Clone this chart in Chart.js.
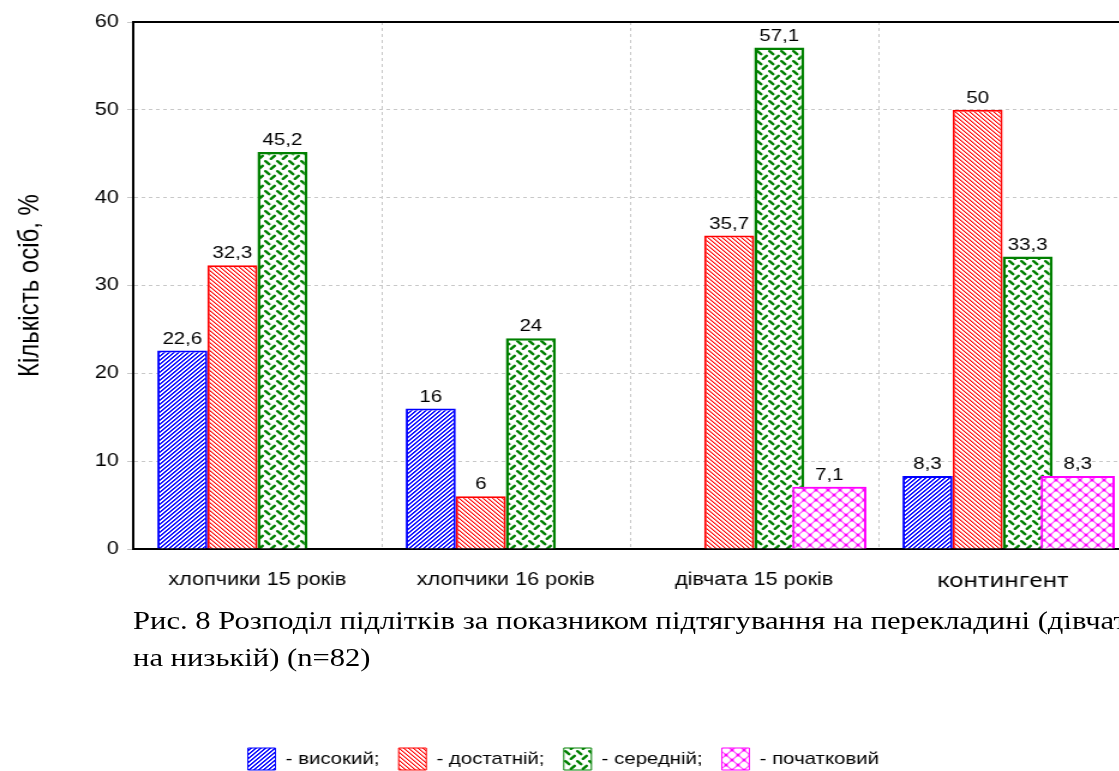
<!DOCTYPE html>
<html>
<head>
<meta charset="utf-8">
<script src="https://cdn.jsdelivr.net/npm/chart.js@4.4.1/dist/chart.umd.min.js"></script>
<style>
  html, body { margin: 0; padding: 0; background: #fff; overflow: hidden; }
  #wrap { position: relative; width: 1119px; height: 771px; overflow: hidden; }
  /* the original figure is stretched sideways, so the canvas is too */
  #chart { position: absolute; left: 0; top: 0; transform: scaleX(1.2); transform-origin: 0 0; }
  #caption {
    position: absolute; left: 133px; top: 602px;
    font-family: "Liberation Serif", "Times New Roman", serif;
    font-size: 25.5px; line-height: 37px; color: #000; white-space: nowrap;
    transform: scaleX(1.2); transform-origin: 0 0;
  }
</style>
</head>
<body>
<div id="wrap">
  <canvas id="chart" width="940" height="780"></canvas>
  <div id="caption">Рис. 8 Розподіл підлітків за показником підтягування на перекладині (дівчата<br>на низькій) (n=82)</div>
</div>
<script>
// categories and levels
const groups = ['хлопчики 15 років', 'хлопчики 16 років', 'дівчата 15 років', 'контингент'];
const levels = ['високий', 'достатній', 'середній', 'початковий'];

// values, %
const vHigh = [22.6, 16, null, 8.3];
const vEnough = [32.3, 6, 35.7, 50];
const vMiddle = [45.2, 24, 57.1, 33.3];
const vStart = [null, null, 7.1, 8.3];

const yTicks = [0, 10, 20, 30, 40, 50, 60];

function tile(size, draw) {
    const c = document.createElement('canvas');
    c.width = size;
    c.height = size;
    const g = c.getContext('2d');
    g.fillStyle = '#fff';
    g.fillRect(0, 0, size, size);
    draw(g, size);
    return g.createPattern(c, 'repeat');
}

// blue "/" stripes
const patBlue = tile(4, function (g, s) {
    for (let x = 0; x < s; x++) for (let y = 0; y < s; y++) {
        const k = (x + y) % s;
        if (k === 0) { g.fillStyle = '#0000ff'; g.fillRect(x, y, 1, 1); }
        else if (k === 1) { g.fillStyle = '#2020ff'; g.fillRect(x, y, 1, 1); }
    }
});

// red "\" stripes, thinner
const patRed = tile(4, function (g, s) {
    for (let x = 0; x < s; x++) for (let y = 0; y < s; y++) {
        const k = (x - y + 40) % s;
        if (k === 0) { g.fillStyle = '#ff0000'; g.fillRect(x, y, 1, 1); }
        else if (k === 1) { g.fillStyle = '#ff9a9a'; g.fillRect(x, y, 1, 1); }
    }
});

// green weave
const patGreen = tile(10, function (g, s) {
    g.strokeStyle = '#008000';
    g.lineWidth = 2.4;
    g.lineCap = 'round';
    g.beginPath();
    g.moveTo(1.2, 1.2); g.lineTo(4.2, 4.2);
    g.moveTo(5.8, 8.8); g.lineTo(8.8, 5.8);
    g.stroke();
});

// magenta diamonds with dots
const patPink = tile(10, function (g, s) {
    g.strokeStyle = '#ff40ff';
    g.lineWidth = 1.1;
    g.beginPath();
    g.moveTo(0, 0); g.lineTo(s, s);
    g.moveTo(0, s); g.lineTo(s, 0);
    g.stroke();
    g.fillStyle = '#ff00ff';
    [[0, 0], [s, 0], [0, s], [s, s], [s / 2, s / 2]].forEach(function (p) {
        g.beginPath(); g.arc(p[0], p[1], 1.5, 0, Math.PI * 2); g.fill();
    });
});

const fills = [patBlue, patRed, patGreen, patPink];
const lines = ['#0000ff', '#ff0000', '#008000', '#ff00ff'];
const series = [vHigh, vEnough, vMiddle, vStart];

const datasets = series.map(function (vals, i) {
    return {
        label: levels[i],
        data: vals,
        backgroundColor: fills[i],
        borderColor: lines[i],
        borderWidth: i === 2 ? 2.5 : 2,
        barPercentage: i === 3 ? 1.48 : 1.0,
        categoryPercentage: 0.806
    };
});

// values on top of the bars, and the wide pink bars redrawn on top
const barLabels = {
    id: 'barLabels',
    afterDatasetsDraw(chart) {
        const ctx = chart.ctx;
        chart.getDatasetMeta(3).controller.draw();
        ctx.save();
        ctx.font = '17px "Liberation Sans", Arial, sans-serif';
        ctx.fillStyle = '#000';
        ctx.textAlign = 'center';
        ctx.textBaseline = 'bottom';
        chart.data.datasets.forEach(function (ds, i) {
            const meta = chart.getDatasetMeta(i);
            meta.data.forEach(function (bar, j) {
                const v = ds.data[j];
                if (v === null) return;
                ctx.fillText(String(v).replace('.', ','), bar.x, bar.y - 3);
            });
        });
        ctx.restore();
    }
};

Chart.defaults.font.family = '"Liberation Sans", Arial, sans-serif';
Chart.defaults.color = '#000';

const chart = new Chart(document.getElementById('chart'), {
    type: 'bar',
    data: { labels: groups, datasets: datasets },
    plugins: [barLabels],
    options: {
        responsive: false,
        animation: false,
        layout: { padding: { top: 22, right: 1, left: 0, bottom: 0 } },
        plugins: {
            tooltip: { enabled: false },
            legend: {
                position: 'bottom',
                labels: {
                    boxWidth: 23,
                    boxHeight: 22,
                    padding: 16,
                    font: { size: 17 },
                    color: '#000',
                    generateLabels(chart) {
                        const items = Chart.defaults.plugins.legend.labels.generateLabels(chart);
                        items.forEach(function (it, i) {
                            it.text = '- ' + levels[i] + (i < levels.length - 1 ? ';' : '');
                            it.lineWidth = 1;
                        });
                        return items;
                    }
                }
            }
        },
        scales: {
            x: {
                offset: true,
                grid: { color: '#c8c8c8', drawTicks: false },
                border: { color: '#000', width: 2, dash: [3, 3] },
                ticks: {
                    padding: 20,
                    color: '#000',
                    font: function (c) {
                        return c.index === 3
                            ? { family: '"Noto Sans", sans-serif', size: 20 }
                            : { size: 18 };
                    }
                },
                afterFit(scale) { scale.height = 183; }
            },
            x2: {
                position: 'top',
                labels: groups,
                offset: true,
                grid: { display: false },
                ticks: { display: false },
                border: { color: '#000', width: 2 },
                afterFit(scale) { scale.height = 0; }
            },
            y: {
                min: 0,
                max: 60,
                afterBuildTicks(scale) { scale.ticks = yTicks.map(v => ({ value: v })); },
                grid: { color: '#c8c8c8', tickLength: 5 },
                border: { color: '#000', width: 2, dash: [3, 3] },
                ticks: { padding: 7, color: '#000', font: { size: 18 } },
                title: {
                    display: true,
                    text: 'Кількість осіб, %',
                    color: '#000',
                    font: { size: 24 },
                    padding: { top: 11, bottom: 0 }
                },
                afterFit(scale) { scale.width = 111; }
            }
        }
    }
});
</script>
</body>
</html>
